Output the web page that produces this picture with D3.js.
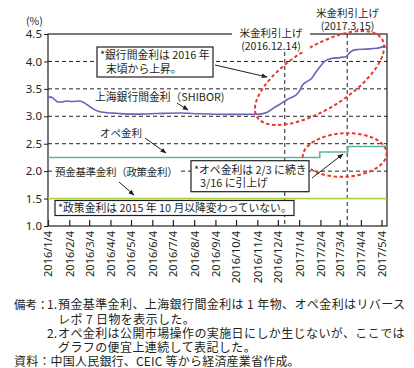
<!DOCTYPE html>
<html><head><meta charset="utf-8">
<script src="https://cdn.jsdelivr.net/npm/d3@7"></script>
<style>
body{margin:0;background:#fff;}
svg{display:block;font-family:"Noto Sans CJK JP","Noto Sans",sans-serif;}
</style></head><body>
<svg id="c" width="414" height="368"></svg>
<script>
// ---- data ----
const shiborDates = ["2016-01-04","2016-01-09","2016-01-14","2016-01-19","2016-01-25","2016-01-30","2016-02-09","2016-02-19","2016-02-25","2016-03-01","2016-03-08","2016-03-17","2016-03-30","2016-04-13","2016-04-28","2016-05-17","2016-06-11","2016-07-14","2016-08-12","2016-09-25","2016-11-03","2016-11-18","2016-11-27","2016-12-07","2016-12-19","2016-12-29","2017-01-04","2017-01-09","2017-01-15","2017-01-22","2017-01-27","2017-02-03","2017-02-11","2017-02-20","2017-03-04","2017-03-13","2017-03-19","2017-03-26","2017-04-12","2017-04-27","2017-05-06","2017-05-12"];
const shiborValues = [3.35,3.35,3.30,3.26,3.26,3.28,3.27,3.28,3.25,3.21,3.15,3.09,3.065,3.055,3.04,3.04,3.05,3.06,3.045,3.035,3.036,3.07,3.145,3.22,3.315,3.375,3.45,3.57,3.63,3.69,3.78,3.90,4.01,4.055,4.07,4.085,4.165,4.21,4.225,4.24,4.265,4.27];
const opeDates = ["2016-01-04","2017-02-03","2017-03-16","2017-05-12"];
const opeValues = [2.25,2.35,2.45,2.45];
const depositDates = ["2016-01-04","2017-05-12"];
const depositValues = [1.5,1.5];
const xTickDates = ["2016-01-04","2016-02-04","2016-03-04","2016-04-04","2016-05-04","2016-06-04","2016-07-04","2016-08-04","2016-09-04","2016-10-04","2016-11-04","2016-12-04","2017-01-04","2017-02-04","2017-03-04","2017-04-04","2017-05-04"];
const xTickLabels = ["2016/1/4","2016/2/4","2016/3/4","2016/4/4","2016/5/4","2016/6/4","2016/7/4","2016/8/4","2016/9/4","2016/10/4","2016/11/4","2016/12/4","2017/1/4","2017/2/4","2017/3/4","2017/4/4","2017/5/4"];
const yTicks = [1.0,1.5,2.0,2.5,3.0,3.5,4.0,4.5];
const yTickLabels = ["1.0","1.5","2.0","2.5","3.0","3.5","4.0","4.5"];
const gridValues = [1.5,2.0,2.5,3.0,3.5,4.0];
const eventDates = ["2016-12-14","2017-03-15"];

const parse = d3.timeParse("%Y-%m-%d");
const svg = d3.select("#c");
const L=48,R=387,T=34,B=226;
const x = d3.scaleTime().domain([parse("2016-01-04"), parse("2017-05-12")]).range([L,R]);
const y = d3.scaleLinear().domain([1,4.5]).range([B,T]);
const ink="#231f20";

// gridlines
svg.append("g").selectAll("line").data(gridValues).join("line")
  .attr("x1",L).attr("x2",R).attr("y1",d=>y(d)).attr("y2",d=>y(d))
  .attr("stroke",ink).attr("stroke-width",1).attr("stroke-dasharray","4,3");

// event vertical lines
svg.append("line").attr("x1",x(parse(eventDates[0]))).attr("x2",x(parse(eventDates[0])))
  .attr("y1",52).attr("y2",B).attr("stroke",ink).attr("stroke-dasharray","4,3");
svg.append("line").attr("x1",x(parse(eventDates[1]))).attr("x2",x(parse(eventDates[1])))
  .attr("y1",T).attr("y2",B).attr("stroke",ink).attr("stroke-dasharray","4,3");

// frame
svg.append("rect").attr("x",L).attr("y",T).attr("width",R-L).attr("height",B-T)
  .attr("fill","none").attr("stroke",ink).attr("stroke-width",1.2);

// y axis
const yAxis = d3.axisLeft(y).tickValues(yTicks).tickFormat((d,i)=>yTickLabels[i]).tickSize(4).tickPadding(2);
const gy = svg.append("g").attr("transform",`translate(${L},0)`).call(yAxis);
gy.select(".domain").remove();
gy.selectAll("line").attr("stroke",ink);
gy.selectAll("text").attr("font-size",11.5).attr("fill",ink).attr("font-family","'Noto Sans',sans-serif");

// x axis
const xAxis = d3.axisBottom(x).tickValues(xTickDates.map(parse)).tickFormat((d,i)=>xTickLabels[i]).tickSize(-6).tickPadding(5);
const gx = svg.append("g").attr("transform",`translate(0,${B})`).call(xAxis);
gx.select(".domain").remove();
gx.selectAll("line").attr("stroke",ink).attr("stroke-width",1.2);
gx.selectAll("text").attr("font-size",11).attr("fill",ink).attr("font-family","'Noto Sans',sans-serif")
  .attr("text-anchor","end").attr("transform","rotate(-90)").attr("x",-5).attr("y",0).attr("dy","0.35em");

svg.append("text").attr("x",26).attr("y",25).attr("font-size",10.5).attr("fill",ink).text("(%)");

// series
const line = d3.line().x(d=>x(d[0])).y(d=>y(d[1]));
svg.append("path").datum(depositDates.map((d,i)=>[parse(d),depositValues[i]]))
  .attr("d",line).attr("fill","none").attr("stroke","#a6cf4c").attr("stroke-width",1.6);
svg.append("path").datum(opeDates.map((d,i)=>[parse(d),opeValues[i]]))
  .attr("d",line.curve(d3.curveStepAfter)).attr("fill","none").attr("stroke","#5db59c").attr("stroke-width",1.6);
svg.append("path").datum(shiborDates.map((d,i)=>[parse(d),shiborValues[i]]))
  .attr("d",d3.line().x(d=>x(d[0])).y(d=>y(d[1])).curve(d3.curveMonotoneX)).attr("fill","none").attr("stroke","#6c62b8").attr("stroke-width",1.6);

// arrow marker
svg.append("defs").append("marker").attr("id","ah").attr("viewBox","0 0 10 10").attr("refX",9).attr("refY",5)
  .attr("markerWidth",6).attr("markerHeight",6).attr("orient","auto")
  .append("path").attr("d","M0,1 L10,5 L0,9 Z").attr("fill",ink);
function arrow(x1,y1,x2,y2){
  svg.append("line").attr("x1",x1).attr("y1",y1).attr("x2",x2).attr("y2",y2)
    .attr("stroke",ink).attr("stroke-width",1).attr("marker-end","url(#ah)");
}
function txt(t,xx,yy,opts={}){
  const s = svg.append("text").attr("x",xx).attr("y",yy).attr("font-size",opts.size||11)
    .attr("fill",ink).attr("text-anchor",opts.anchor||"start").text(t);
  if(opts.ls!==undefined) s.attr("letter-spacing",opts.ls);
  return s;
}
function box(x0,y0,w,h){
  svg.append("rect").attr("x",x0).attr("y",y0).attr("width",w).attr("height",h)
    .attr("fill","#fff").attr("stroke",ink).attr("stroke-width",1.2);
}

// red ellipses
svg.append("ellipse").attr("cx",319.5).attr("cy",78).attr("rx",73.6).attr("ry",31)
  .attr("transform","rotate(-32 319.5 78)").attr("fill","none").attr("stroke","#e8392c")
  .attr("stroke-width",2).attr("stroke-dasharray","3.5,2.5");
svg.append("ellipse").attr("cx",344.7).attr("cy",155).attr("rx",42).attr("ry",21.7)
  .attr("transform","rotate(-3 344.7 155)").attr("fill","none").attr("stroke","#e8392c")
  .attr("stroke-width",2).attr("stroke-dasharray","3.5,2.5");

// event labels
svg.append("rect").attr("x",232).attr("y",26).attr("width",78).attr("height",26).attr("fill","#fff");
txt("米金利引上げ",271,37,{anchor:"middle",size:10.5});
txt("(2016.12.14)",271,50,{anchor:"middle",size:10.5});
txt("米金利引上げ",347.5,17,{anchor:"middle",size:10.5});
txt("(2017.3.15)",347.5,30,{anchor:"middle",size:10.5});

// box 1
box(97,47,116,30);
txt("*銀行間金利は 2016 年",100,59,{size:10.8});
txt("末頃から上昇。",106,73,{size:10.8});
arrow(215,65,267,77);

// SHIBOR label
txt("上海銀行間金利（SHIBOR)",95,101,{size:10.8});
arrow(177,103,188,110);

// ope label
txt("オペ金利",100,137,{size:10.5});
arrow(145,138,166,153);

// deposit label with white bg
svg.append("rect").attr("x",53).attr("y",164).attr("width",127).attr("height",15).attr("fill","#fff");
txt("預金基準金利（政策金利）",55,175.5,{size:10.5,ls:-0.3});
arrow(119,182,134,195);

// box 5
box(55,200.5,239,15);
txt("*政策金利は 2015 年 10 月以降変わっていない。",58,212,{size:10.8});

// box 6
box(191,160.7,118,31);
txt("*オペ金利は 2/3 に続き",194,173.5,{size:10.8});
txt("3/16 に引上げ",200,187,{size:10.8});
arrow(312,178,343,154);

// footer
const fs=12, ls=0.4;
txt("備考：",14,309,{size:11.5});
txt("1.",47,309,{size:fs});
txt("預金基準金利、上海銀行間金利は 1 年物、オペ金利はリバース",58,309,{size:fs,ls:ls});
txt("レポ 7 日物を表示した。",58,323.5,{size:fs,ls:ls});
txt("2.",47,338,{size:fs});
txt("オペ金利は公開市場操作の実施日にしか生じないが、ここでは",58,338,{size:fs,ls:ls});
txt("グラフの便宜上連続して表記した。",58,352,{size:fs,ls:ls});
txt("資料：中国人民銀行、CEIC 等から経済産業省作成。",14,366,{size:fs,ls:0.2});
</script></body></html>
